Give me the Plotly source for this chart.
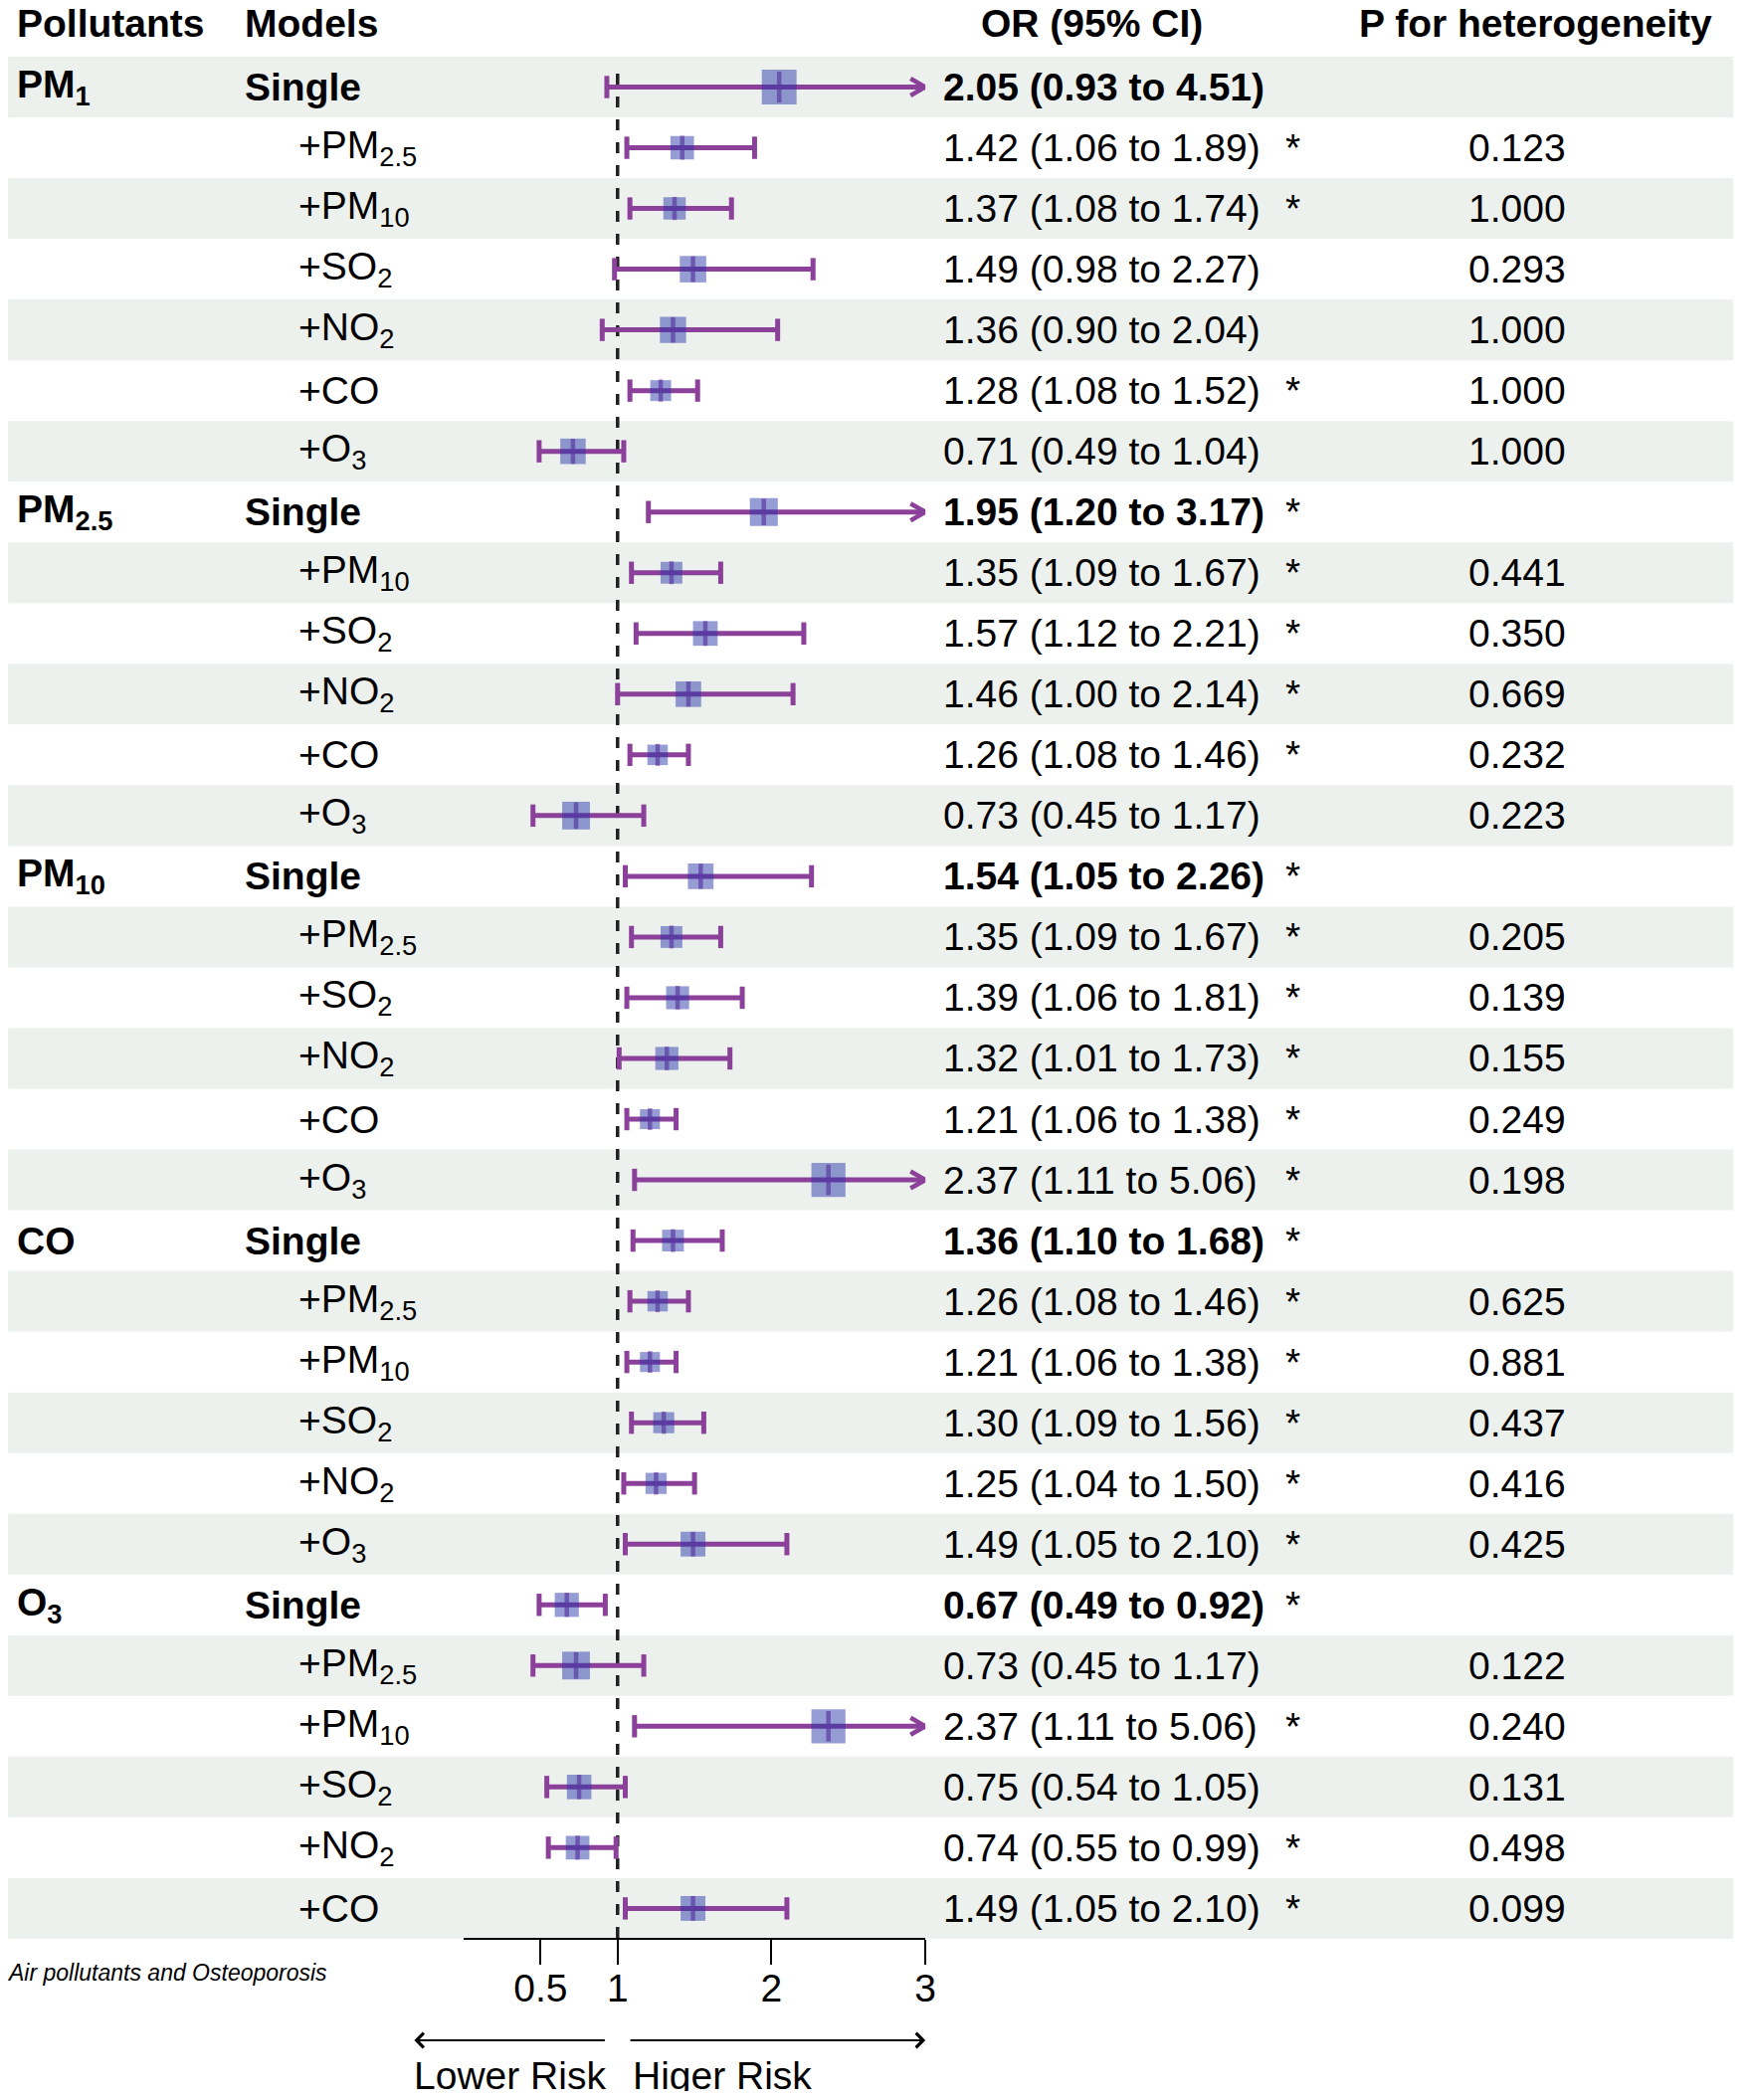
import math
import plotly.graph_objects as go

# page is 1760x2111; the html body adds an 8px margin, so the figure is a bit smaller
OX, OY = 8, 8
FW, FH = 1744, 2094

# ---- data ----
pollutants = ["PM<sub>1</sub>", "PM<sub>2.5</sub>", "PM<sub>10</sub>", "CO", "O<sub>3</sub>"]
models = [
    "Single", "+PM<sub>2.5</sub>", "+PM<sub>10</sub>", "+SO<sub>2</sub>", "+NO<sub>2</sub>", "+CO", "+O<sub>3</sub>",
    "Single", "+PM<sub>10</sub>", "+SO<sub>2</sub>", "+NO<sub>2</sub>", "+CO", "+O<sub>3</sub>",
    "Single", "+PM<sub>2.5</sub>", "+SO<sub>2</sub>", "+NO<sub>2</sub>", "+CO", "+O<sub>3</sub>",
    "Single", "+PM<sub>2.5</sub>", "+PM<sub>10</sub>", "+SO<sub>2</sub>", "+NO<sub>2</sub>", "+O<sub>3</sub>",
    "Single", "+PM<sub>2.5</sub>", "+PM<sub>10</sub>", "+SO<sub>2</sub>", "+NO<sub>2</sub>", "+CO",
]
odds = [2.05, 1.42, 1.37, 1.49, 1.36, 1.28, 0.71,
        1.95, 1.35, 1.57, 1.46, 1.26, 0.73,
        1.54, 1.35, 1.39, 1.32, 1.21, 2.37,
        1.36, 1.26, 1.21, 1.30, 1.25, 1.49,
        0.67, 0.73, 2.37, 0.75, 0.74, 1.49]
ci_low = [0.93, 1.06, 1.08, 0.98, 0.90, 1.08, 0.49,
          1.20, 1.09, 1.12, 1.00, 1.08, 0.45,
          1.05, 1.09, 1.06, 1.01, 1.06, 1.11,
          1.10, 1.08, 1.06, 1.09, 1.04, 1.05,
          0.49, 0.45, 1.11, 0.54, 0.55, 1.05]
ci_high = [4.51, 1.89, 1.74, 2.27, 2.04, 1.52, 1.04,
           3.17, 1.67, 2.21, 2.14, 1.46, 1.17,
           2.26, 1.67, 1.81, 1.73, 1.38, 5.06,
           1.68, 1.46, 1.38, 1.56, 1.50, 2.10,
           0.92, 1.17, 5.06, 1.05, 0.99, 2.10]
signif = [False, True, True, False, False, True, False,
          True, True, True, True, True, False,
          True, True, True, True, True, True,
          True, True, True, True, True, True,
          True, False, True, False, True, True]
p_het = ["", "0.123", "1.000", "0.293", "1.000", "1.000", "1.000",
         "", "0.441", "0.350", "0.669", "0.232", "0.223",
         "", "0.205", "0.139", "0.155", "0.249", "0.198",
         "", "0.625", "0.881", "0.437", "0.416", "0.425",
         "", "0.122", "0.240", "0.131", "0.498", "0.099"]
x_ticks = [0.5, 1, 2, 3]
x_max = 3

# ---- layout helpers (page pixels) ----
ROW0, ROW_H = 87.5, 61.03
FONT = "Liberation Sans, Arial, sans-serif"
FS = 39
PURPLE = "#8B4099"
BOX = "rgba(40, 55, 170, 0.70)"
BAND = "#EDF1EE"

def px(x):
    return (x - OX) / FW

def py(y):
    return 1 - (y - OY) / FH

def row_of(ypix):
    return (ypix - ROW0) / ROW_H

n = len(models)
rows = list(range(n))

fig = go.Figure()

# CI lines (clipped at the axis end)
lx, ly = [], []
for i in rows:
    lx += [ci_low[i], min(ci_high[i], x_max), None]
    ly += [i, i, None]
fig.add_trace(go.Scatter(x=lx, y=ly, mode="lines", line=dict(color=PURPLE, width=5),
                         hoverinfo="skip", showlegend=False))

# caps
cx, cy = [], []
for i in rows:
    cx.append(ci_low[i]); cy.append(i)
    if ci_high[i] <= x_max:
        cx.append(ci_high[i]); cy.append(i)
fig.add_trace(go.Scatter(x=cx, y=cy, mode="markers",
                         marker=dict(symbol="line-ns", size=16, line=dict(color=PURPLE, width=5)),
                         hoverinfo="skip", showlegend=False, cliponaxis=False))

# arrow heads for truncated intervals
dx, dy = 15 / 155.67, 8.5 / ROW_H
ax_, ay_ = [], []
for i in rows:
    if ci_high[i] > x_max:
        ax_ += [x_max - dx, x_max, x_max - dx, None]
        ay_ += [i - dy, i, i + dy, None]
fig.add_trace(go.Scatter(x=ax_, y=ay_, mode="lines", line=dict(color=PURPLE, width=4.5),
                         hoverinfo="skip", showlegend=False, cliponaxis=False))

# box sizes from the standard error
se = [(math.log(h) - math.log(l)) / 3.92 for l, h in zip(ci_low, ci_high)]
box_size = [17.1 + 44.3 * s for s in se]
tick_size = [0.45 * b + 6.5 for b in box_size]

fig.add_trace(go.Scatter(x=odds, y=rows, mode="markers",
                         marker=dict(symbol="line-ns", size=tick_size, line=dict(color=PURPLE, width=4.5)),
                         hoverinfo="skip", showlegend=False))
fig.add_trace(go.Scatter(x=odds, y=rows, mode="markers",
                         marker=dict(symbol="square", size=box_size, color=BOX, line=dict(width=0)),
                         hoverinfo="skip", showlegend=False))

shapes = []
for i in rows:
    if i % 2 == 0:
        shapes.append(dict(type="rect", xref="paper", yref="y", x0=px(6), x1=px(1753),
                           y0=i - 0.5, y1=i + 0.5, fillcolor=BAND, line=dict(width=0), layer="below"))
shapes.append(dict(type="line", xref="x", yref="y", x0=1, x1=1, y0=row_of(74), y1=n - 0.5,
                   line=dict(color="#222222", width=3.5, dash="11px,12px"), layer="below"))

ann = []

def text(x, y, s, anchor="left", size=FS, yref="y", **kw):
    ann.append(dict(x=x, y=y, xref="paper", yref=yref, text=s, showarrow=False,
                    xanchor=anchor, yanchor="middle", font=dict(family=FONT, size=size, color="black"), **kw))

# headers
hy = py(24)
text(px(15), hy, "<b>Pollutants</b>", yref="paper")
text(px(245), hy, "<b>Models</b>", yref="paper")
text(px(1104), hy, "<b>OR (95% CI)</b>", anchor="center", yref="paper")
text(px(1553), hy, "<b>P for heterogeneity</b>", anchor="center", yref="paper")

k = 0
for i in rows:
    single = models[i] == "Single"
    ci_txt = f"{odds[i]:.2f} ({ci_low[i]:.2f} to {ci_high[i]:.2f})"
    if single:
        text(px(15), i, f"<b>{pollutants[k]}</b>")
        k += 1
        text(px(245), i, "<b>Single</b>")
        text(px(952), i, f"<b>{ci_txt}</b>")
    else:
        text(px(300), i, models[i])
        text(px(952), i, ci_txt)
    if signif[i]:
        text(px(1308), i, "*", anchor="center")
    if p_het[i]:
        text(px(1535), i, p_het[i], anchor="center")

# caption and risk labels
text(px(5), py(1983), "<i>Air pollutants and Osteoporosis</i>", size=23, yref="paper")
text(px(516), py(2086), "Lower Risk", anchor="center", yref="paper")
text(px(638), py(2086), "Higer Risk", yref="paper")

for tip, tail in [(419, 612), (936, 638)]:
    ann.append(dict(x=px(tip), y=py(2051), xref="paper", yref="paper", text="",
                    showarrow=True, axref="pixel", ayref="pixel", ax=tail - tip, ay=0,
                    arrowhead=4, arrowsize=1.4, arrowwidth=2, arrowcolor="black"))

fig.update_layout(
    width=FW, height=FH,
    margin=dict(l=0, r=0, t=0, b=0),
    paper_bgcolor="white", plot_bgcolor="rgba(0,0,0,0)",
    shapes=shapes, annotations=ann, showlegend=False,
    xaxis=dict(domain=[px(469), px(936)], range=[0, x_max], anchor="free", position=py(1949),
               showline=True, linecolor="black", linewidth=2, ticks="outside", ticklen=25,
               tickwidth=2, tickcolor="black", tickvals=x_ticks, ticktext=[f"{t:g}" for t in x_ticks],
               ticklabelstandoff=-10,
               tickfont=dict(family=FONT, size=FS, color="black"), showgrid=False, zeroline=False),
    yaxis=dict(domain=[0, 1], range=[row_of(OY + FH), row_of(OY)], visible=False,
               showgrid=False, zeroline=False),
)

fig.write_html("out.html")
